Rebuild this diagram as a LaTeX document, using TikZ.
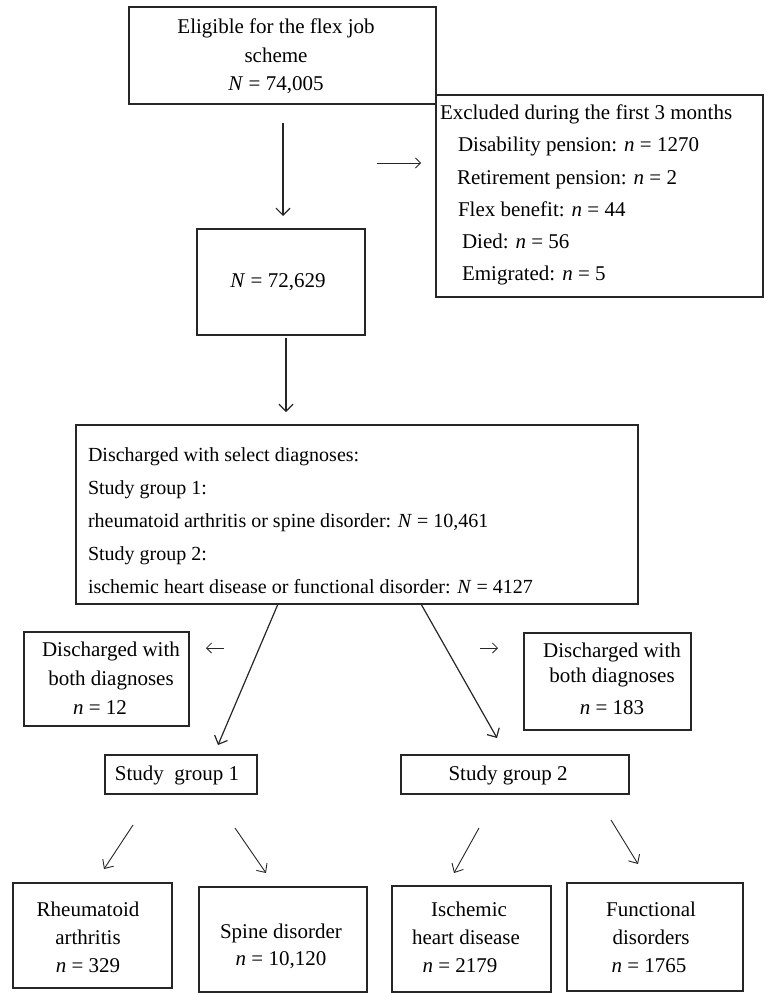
\documentclass[tikz,border=0pt]{standalone}
\usepackage{fontspec}
\setmainfont{Liberation Serif}
\usetikzlibrary{arrows.meta,calc}
\begin{document}
\begin{tikzpicture}[x=1pt,y=-1pt,
  box/.style={draw=black!85, line width=1.5pt, inner sep=0pt, outer sep=0pt},
  txt/.style={inner sep=0pt, outer sep=0pt, align=center, font=\fontsize{21}{28}\selectfont},
  arr/.style={draw=black!85, line width=1.2pt, -{Straight Barb[length=7pt,width=14pt]}},
  thinarr/.style={draw=black!85, line width=0.9pt, -{Straight Barb[length=7pt,width=13pt]}},
  glypharr/.style={draw=black!85, line width=0.8pt, -{Straight Barb[length=5pt,width=10pt]}}
]
\useasboundingbox (0,0) rectangle (770,993);

% boxes
\node[box, minimum width=307pt, minimum height=97pt] (top) at (282.5,55.5) {};
\node[box, minimum width=327pt, minimum height=202pt] (excl) at (599.5,196) {};
\node[box, minimum width=168pt, minimum height=106pt] (mid) at (281,282) {};
\node[box, minimum width=562pt, minimum height=179pt] (big) at (357,514.5) {};
\node[box, minimum width=165pt, minimum height=94pt] (bothL) at (106.5,679) {};
\node[box, minimum width=167pt, minimum height=97pt] (bothR) at (607.5,681.5) {};
\node[box, minimum width=152pt, minimum height=39pt] (sg1) at (181,774.5) {};
\node[box, minimum width=228pt, minimum height=39pt] (sg2) at (515,774.5) {};
\node[box, minimum width=159pt, minimum height=105pt] (b1) at (92.5,935.5) {};
\node[box, minimum width=168pt, minimum height=105pt] (b2) at (283,939.5) {};
\node[box, minimum width=159pt, minimum height=106pt] (b3) at (471.5,939) {};
\node[box, minimum width=176pt, minimum height=108pt] (b4) at (655,937) {};

% texts
\node[txt, font=\fontsize{21}{28.5}\selectfont] (topt) at (276,56.5) {Eligible for the flex job\\scheme\\\textit{N} = 74,005};
\node[txt, align=left, anchor=west, font=\fontsize{21}{32.2}\selectfont] (exclt) at (440,195) {Excluded during the first 3 months\\
\hspace*{18pt}Disability pension: \textit{n} = 1270\\
\hspace*{17pt}Retirement pension: \textit{n} = 2\\
\hspace*{18pt}Flex benefit: \textit{n} = 44\\
\hspace*{22pt}Died: \textit{n} = 56\\
\hspace*{22pt}Emigrated: \textit{n} = 5};
\node[txt] (midt) at (278,282) {\textit{N} = 72,629};
\node[txt, align=left, anchor=west, font=\fontsize{20}{33}\selectfont] (bigt) at (88,521) {Discharged with select diagnoses:\\
Study group 1:\\
rheumatoid arthritis or spine disorder: \textit{N} = 10,461\\
Study group 2:\\
ischemic heart disease or functional disorder: \textit{N} = 4127};
\node[txt, font=\fontsize{21}{29}\selectfont] (bothLt) at (111,678) {Discharged with\\both diagnoses\\\textit{n} = 12\hspace*{22pt}};
\node[txt, font=\fontsize{21}{25}\selectfont] (bothRt) at (612,679) {Discharged with\\both diagnoses\\[7pt]\textit{n} = 183};
\node[txt] (sg1t) at (177,775) {Study~ group 1};
\node[txt] (sg2t) at (508,775) {Study group 2};
\node[txt] (b1t) at (88,937) {Rheumatoid\\arthritis\\\textit{n} = 329};
\node[txt, font=\fontsize{21}{27}\selectfont] (b2t) at (281,946.5) {Spine disorder\\\textit{n} = 10,120};
\node[txt] (b3t) at (466,937) {\hspace*{6pt}Ischemic\\heart disease\\\textit{n} = 2179\hspace*{12pt}};
\node[txt] (b4t) at (651,937) {Functional\\disorders\\\textit{n} = 1765\hspace*{4pt}};

% connector coordinates
\coordinate (d1s) at (283,123);
\coordinate (d1e) at (283,216);
\coordinate (d2s) at (286,338);
\coordinate (d2e) at (286,412);
\coordinate (r1s) at (377,163);
\coordinate (r1e) at (421,163);
\coordinate (gLs) at ($(big.south west)+(202,0)$);
\coordinate (gLe) at (218,745);
\coordinate (gRs) at ($(big.south west)+(345,0)$);
\coordinate (gRe) at (497,738);
\coordinate (lsA) at (224,648);
\coordinate (leA) at (206,648);
\coordinate (rsA) at (480,648);
\coordinate (reA) at (498,648);
\coordinate (a1s) at (133,825);
\coordinate (a1e) at (104,869);
\coordinate (a2s) at (235,828);
\coordinate (a2e) at (266,873);
\coordinate (a3s) at (479,828);
\coordinate (a3e) at (454,873);
\coordinate (a4s) at (611,820);
\coordinate (a4e) at (638,864);

% connectors
\draw[arr] (d1s) -- (d1e);
\draw[arr] (d2s) -- (d2e);
\draw[glypharr] (r1s) -- (r1e);
\draw[arr] (gLs) -- (gLe);
\draw[arr] (gRs) -- (gRe);
\draw[glypharr] (lsA) -- (leA);
\draw[glypharr] (rsA) -- (reA);
\draw[thinarr] (a1s) -- (a1e);
\draw[thinarr] (a2s) -- (a2e);
\draw[thinarr] (a3s) -- (a3e);
\draw[thinarr] (a4s) -- (a4e);
\end{tikzpicture}
\end{document}
